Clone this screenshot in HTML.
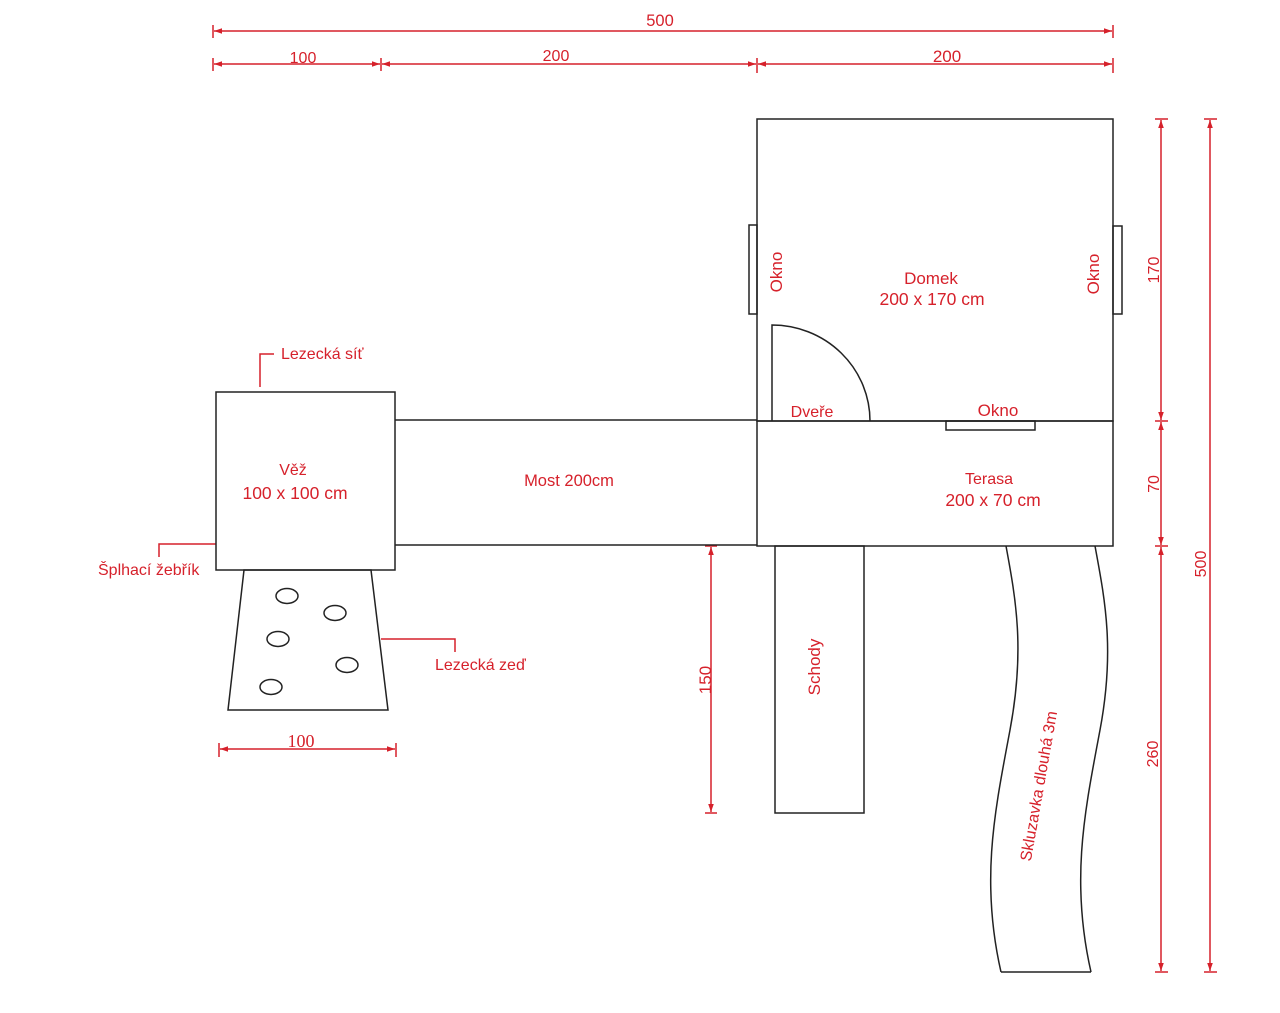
<!DOCTYPE html>
<html><head><meta charset="utf-8"><style>
html,body{margin:0;padding:0;background:#fff}
svg{display:block}
text{font-family:"Liberation Sans",sans-serif;fill:#d6212b}
</style></head><body>
<svg width="1280" height="1013" viewBox="0 0 1280 1013" xmlns="http://www.w3.org/2000/svg" font-size="16">
<defs>
<marker id="a" viewBox="0 0 10 10" refX="10" refY="5" markerWidth="12" markerHeight="8" orient="auto-start-reverse" markerUnits="userSpaceOnUse"><path d="M10,5 L0,1.5 L0,8.5Z" fill="#d6212b"/></marker>
</defs>
<g stroke="#d6212b" stroke-width="1.5" fill="none">
<line x1="214" y1="31" x2="1112" y2="31" marker-start="url(#a)" marker-end="url(#a)"/>
<line x1="213" y1="25" x2="213" y2="38"/><line x1="1113" y1="25" x2="1113" y2="38"/>
<line x1="214" y1="64" x2="380" y2="64" marker-start="url(#a)" marker-end="url(#a)"/>
<line x1="382" y1="64" x2="756" y2="64" marker-start="url(#a)" marker-end="url(#a)"/>
<line x1="758" y1="64" x2="1112" y2="64" marker-start="url(#a)" marker-end="url(#a)"/>
<line x1="213" y1="58" x2="213" y2="71"/><line x1="381" y1="58" x2="381" y2="71"/><line x1="757" y1="58" x2="757" y2="73"/><line x1="1113" y1="58" x2="1113" y2="73"/>
<line x1="1161" y1="120" x2="1161" y2="420" marker-start="url(#a)" marker-end="url(#a)"/>
<line x1="1161" y1="422" x2="1161" y2="545" marker-start="url(#a)" marker-end="url(#a)"/>
<line x1="1161" y1="547" x2="1161" y2="971" marker-start="url(#a)" marker-end="url(#a)"/>
<line x1="1155" y1="119" x2="1168" y2="119"/><line x1="1155" y1="421" x2="1168" y2="421"/><line x1="1155" y1="546" x2="1168" y2="546"/><line x1="1155" y1="972" x2="1168" y2="972"/>
<line x1="1210" y1="120" x2="1210" y2="971" marker-start="url(#a)" marker-end="url(#a)"/>
<line x1="1204" y1="119" x2="1217" y2="119"/><line x1="1204" y1="972" x2="1217" y2="972"/>
<line x1="711" y1="547" x2="711" y2="812" marker-start="url(#a)" marker-end="url(#a)"/>
<line x1="705" y1="546" x2="717" y2="546"/><line x1="705" y1="813" x2="717" y2="813"/>
<line x1="220" y1="749" x2="395" y2="749" marker-start="url(#a)" marker-end="url(#a)"/>
<line x1="219" y1="743" x2="219" y2="757"/><line x1="396" y1="743" x2="396" y2="757"/>
<polyline points="260,387 260,354 274,354"/>
<polyline points="216,544 159,544 159,557"/>
<polyline points="381,639 455,639 455,652"/>
</g>
<g stroke="#222" stroke-width="1.5" fill="none">
<rect x="757" y="119" width="356" height="302"/>
<rect x="757" y="421" width="356" height="125"/>
<rect x="749" y="225" width="8" height="89"/>
<rect x="1113" y="226" width="9" height="88"/>
<rect x="946" y="421" width="89" height="9"/>
<path d="M772,421 L772,325 A98,96 0 0 1 870,421"/>
<rect x="216" y="392" width="179" height="178"/>
<line x1="395" y1="420" x2="757" y2="420"/>
<line x1="395" y1="545" x2="757" y2="545"/>
<polygon points="244,570 371,570 388,710 228,710"/>
<ellipse cx="287" cy="596" rx="11" ry="7.5"/>
<ellipse cx="335" cy="613" rx="11" ry="7.5"/>
<ellipse cx="278" cy="639" rx="11" ry="7.5"/>
<ellipse cx="347" cy="665" rx="11" ry="7.5"/>
<ellipse cx="271" cy="687" rx="11" ry="7.5"/>
<rect x="775" y="546" width="89" height="267"/>
<path d="M1006,546 C1016,600 1025,650 1010,730 C995,810 980,880 1001,972"/>
<path d="M1095,546 C1105,600 1115,650 1100,730 C1085,810 1070,880 1091,972"/>
<line x1="1001" y1="972" x2="1091" y2="972"/>
</g>
<text x="660" y="26" text-anchor="middle" font-size="16.5">500</text>
<text x="303" y="63" text-anchor="middle" font-size="16">100</text>
<text x="556" y="61" text-anchor="middle" font-size="16">200</text>
<text x="947" y="62" text-anchor="middle" font-size="17">200</text>
<text x="931" y="284" text-anchor="middle" font-size="17">Domek</text>
<text x="932" y="305" text-anchor="middle" font-size="17.5">200 x 170 cm</text>
<text transform="translate(782,272) rotate(-90)" text-anchor="middle" font-size="17">Okno</text>
<text transform="translate(1099,274) rotate(-90)" text-anchor="middle" font-size="17">Okno</text>
<text x="812" y="417" text-anchor="middle" font-size="16">Dveře</text>
<text x="998" y="416" text-anchor="middle" font-size="17">Okno</text>
<text x="989" y="484" text-anchor="middle">Terasa</text>
<text x="993" y="506" text-anchor="middle" font-size="17.5">200 x 70 cm</text>
<text x="569" y="486" text-anchor="middle" font-size="16.5">Most 200cm</text>
<text x="293" y="475" text-anchor="middle" font-size="16">Věž</text>
<text x="295" y="499" text-anchor="middle" font-size="17.5">100 x 100 cm</text>
<text x="281" y="359" font-size="16">Lezecká síť</text>
<text x="98" y="575" font-size="16">Šplhací žebřík</text>
<text x="435" y="670" font-size="16">Lezecká zeď</text>
<text x="301" y="747" text-anchor="middle" font-size="18" style="font-family:'Liberation Serif',serif">100</text>
<text transform="translate(711,680) rotate(-90)" text-anchor="middle" font-size="17">150</text>
<text transform="translate(820,667) rotate(-90)" text-anchor="middle" font-size="17">Schody</text>
<text transform="translate(1044,787) rotate(-80)" text-anchor="middle" font-size="16">Skluzavka dlouhá 3m</text>
<text transform="translate(1159,270) rotate(-90)" text-anchor="middle" font-size="16">170</text>
<text transform="translate(1159,484) rotate(-90)" text-anchor="middle" font-size="16">70</text>
<text transform="translate(1158,754) rotate(-90)" text-anchor="middle" font-size="16">260</text>
<text transform="translate(1206,564) rotate(-90)" text-anchor="middle" font-size="16">500</text>
</svg>
</body></html>
